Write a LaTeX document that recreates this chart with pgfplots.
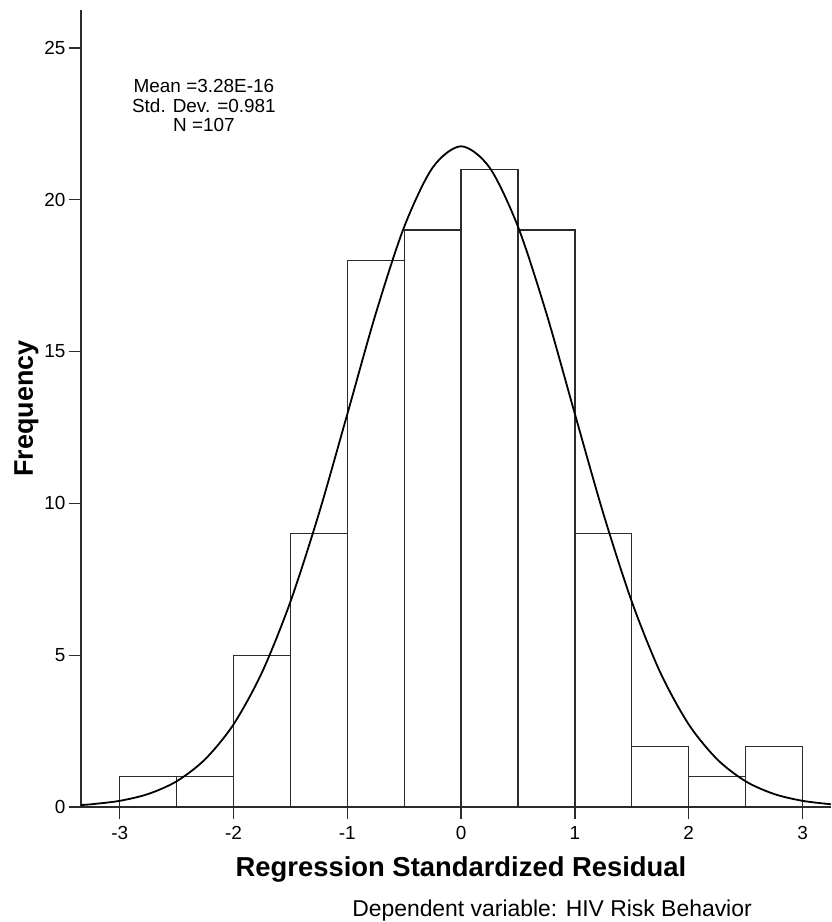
\documentclass[border=0pt]{standalone}
\usepackage{pgfplots}
\pgfplotsset{compat=1.18}
\usepackage{fontspec}
\setmainfont{Liberation Sans}

\definecolor{ink}{HTML}{2B2B2B}

\begin{document}
\begin{tikzpicture}
\begin{axis}[
  scale only axis,
  width=750bp, height=797bp,
  xmin=-3.34, xmax=3.25,
  ymin=0, ymax=26.25,
  axis x line*=bottom, axis y line*=left,
  axis line style={-, line width=1.3bp, ink},
  xtick={-3,-2,-1,0,1,2,3},
  ytick={0,5,10,15,20,25},
  tick align=outside,
  major tick length=12bp,
  tick style={line width=1.3bp, ink},
  ticklabel style={font=\fontsize{19}{19}\selectfont},
  xticklabel style={yshift=-4bp},
  /pgf/number format/assume math mode=true,
  xlabel={Regression Standardized Residual},
  xlabel style={font=\fontsize{27.5}{28}\selectfont\bfseries, anchor=base,
    at={([yshift=-69bp]axis description cs:0.5067,0)}},
  ylabel={Frequency},
  ylabel style={font=\fontsize{27}{28}\selectfont\bfseries, anchor=base,
    at={([xshift=-48bp]axis description cs:0,0.5)}},
  clip=false,
]
% histogram bins (width 0.5), last point closes the interval
\addplot[ybar interval, fill=white, draw=ink, line width=1.3bp] coordinates {
  (-3,1) (-2.5,1) (-2,5) (-1.5,9) (-1,18) (-0.5,19) (0,21)
  (0.5,19) (1,9) (1.5,2) (2,1) (2.5,2) (3,2)
};
% normal curve, values
\addplot[smooth, black, line width=1.8bp, mark=none] coordinates {
  (-3.34,0.066) (-3.25,0.090) (-3.0,0.203) (-2.75,0.428) (-2.5,0.846)
  (-2.25,1.57) (-2.0,2.72) (-1.75,4.43) (-1.5,6.76) (-1.25,9.66)
  (-1.0,12.94) (-0.75,16.25) (-0.5,19.11) (-0.25,21.06) (0,21.76)
  (0.25,21.06) (0.5,19.11) (0.75,16.25) (1.0,12.94) (1.25,9.66)
  (1.5,6.76) (1.75,4.43) (2.0,2.72) (2.25,1.57) (2.5,0.846)
  (2.75,0.428) (3.0,0.203) (3.25,0.090)
};
\node[align=center, font=\fontsize{19}{19.5}\selectfont, inner sep=0pt]
  at (axis cs:-2.26,23.1) {Mean =3.28E-16\\Std. Dev. =0.981\\N =107};
\node[anchor=base, font=\fontsize{23}{24}\selectfont, inner sep=0pt]
  at ([yshift=-109bp]axis description cs:0.628,0) {Dependent variable: HIV Risk Behavior};
\path ([shift={(-81bp,-115bp)}]rel axis cs:0,0) rectangle ([shift={(0bp,10bp)}]rel axis cs:1,1);
\end{axis}
\end{tikzpicture}
\end{document}
